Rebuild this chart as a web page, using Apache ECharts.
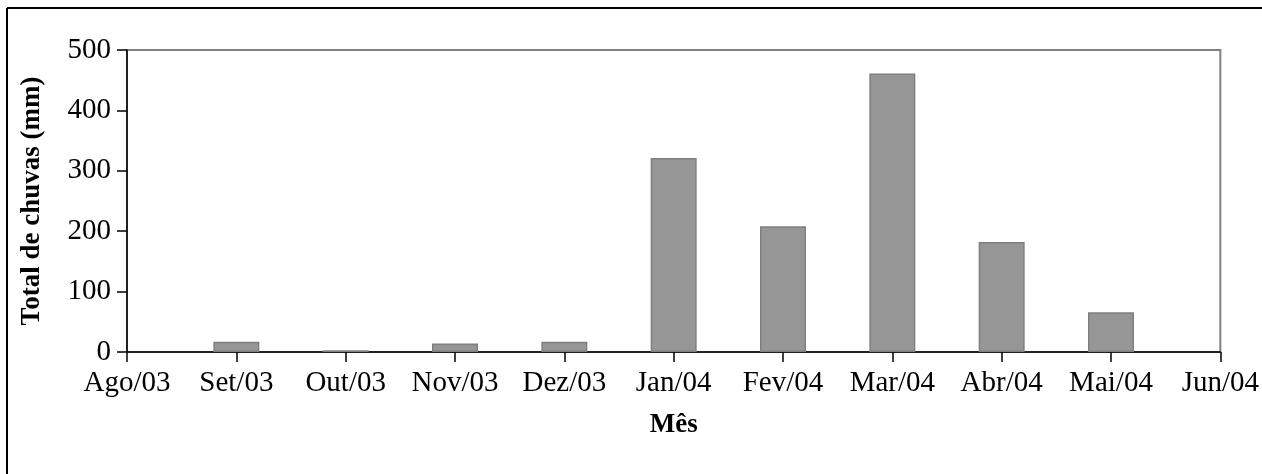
<!DOCTYPE html>
<html>
<head>
<meta charset="utf-8">
<script src="https://cdn.jsdelivr.net/npm/echarts@6/dist/echarts.min.js"></script>
<style>
html,body{margin:0;padding:0;background:#fff;}
#chart{width:1262px;height:474px;}
</style>
</head>
<body>
<div id="chart"></div>
<script>
const months = ['Ago/03','Set/03','Out/03','Nov/03','Dez/03','Jan/04','Fev/04','Mar/04','Abr/04','Mai/04','Jun/04'];
const rainfall = [null, 17, 3, 14, 17, 321, 208, 461, 182, 66, null];
const yTicks = {min: 0, max: 500, interval: 100};
const xTitle = 'Mês';
const yTitle = 'Total de chuvas (mm)';

const font = "'Liberation Serif', 'Times New Roman', serif";
const chart = echarts.init(document.getElementById('chart'), null, {renderer: 'canvas'});
chart.setOption({
  animation: false,
  backgroundColor: '#fff',
  graphic: [
    {type: 'line', shape: {x1: 7, y1: 8, x2: 1262, y2: 8}, style: {stroke: '#000', lineWidth: 2}},
    {type: 'line', shape: {x1: 7, y1: 8, x2: 7, y2: 474}, style: {stroke: '#000', lineWidth: 2}}
  ],
  grid: {left: 127, top: 50, width: 1094, height: 302, show: true, borderColor: '#808080', borderWidth: 2, backgroundColor: 'transparent'},
  xAxis: {
    type: 'category',
    data: months,
    boundaryGap: false,
    axisLine: {lineStyle: {color: '#000', width: 1.5}},
    axisTick: {length: 10, lineStyle: {color: '#000', width: 1.5}},
    axisLabel: {color: '#000', fontFamily: font, fontSize: 29, margin: 17, interval: 0},
    name: xTitle,
    nameLocation: 'middle',
    nameGap: 60,
    nameTextStyle: {color: '#000', fontFamily: font, fontSize: 27, fontWeight: 'bold'}
  },
  yAxis: {
    type: 'value',
    min: yTicks.min, max: yTicks.max, interval: yTicks.interval,
    axisLine: {show: true, lineStyle: {color: '#000', width: 1.5}},
    axisTick: {show: true, length: 10, lineStyle: {color: '#000', width: 1.5}},
    splitLine: {show: false},
    axisLabel: {color: '#000', fontFamily: font, fontSize: 29, margin: 16},
    name: yTitle,
    nameLocation: 'middle',
    nameGap: 81,
    nameTextStyle: {color: '#000', fontFamily: font, fontSize: 27, fontWeight: 'bold'}
  },
  series: [{
    type: 'bar',
    data: rainfall,
    barWidth: 46,
    itemStyle: {color: '#969696', borderColor: '#7f7f7f', borderWidth: 1.5}
  }]
});
</script>
</body>
</html>
